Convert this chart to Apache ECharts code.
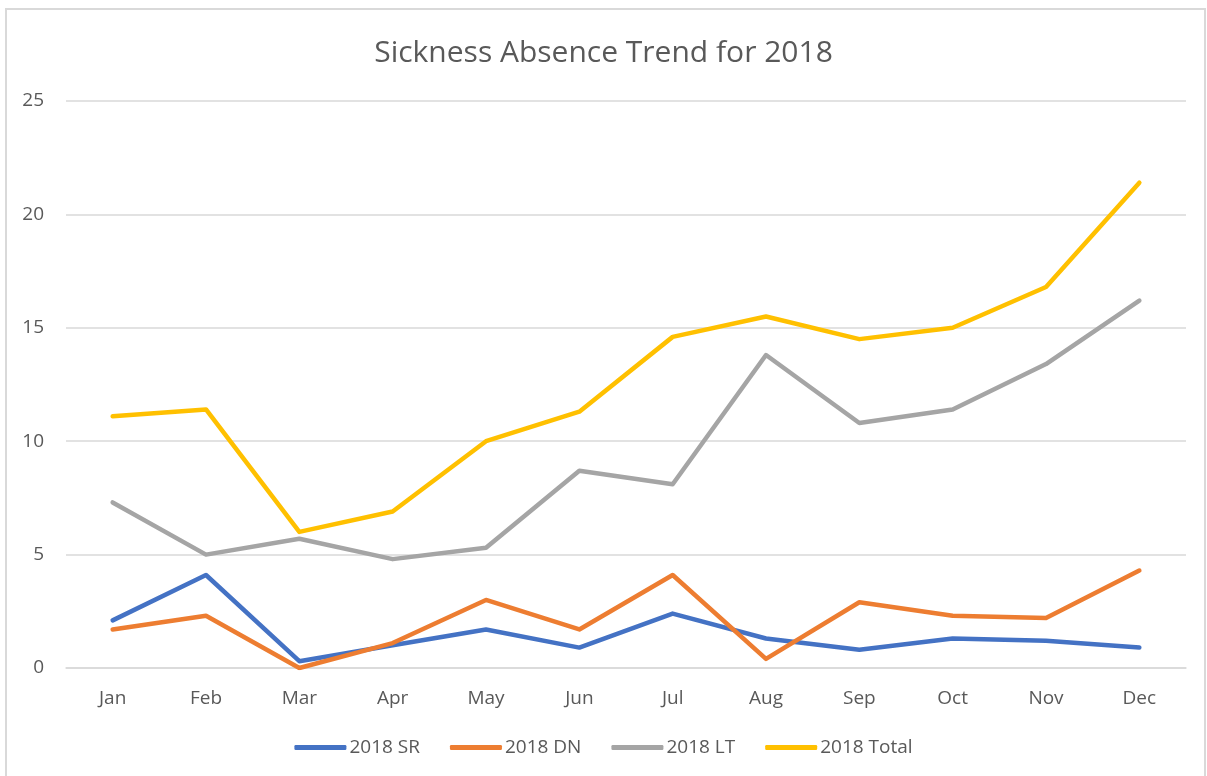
<!DOCTYPE html>
<html>
<head>
<meta charset="utf-8">
<script src="https://cdn.jsdelivr.net/npm/echarts@6/dist/echarts.min.js"></script>
<style>
  html, body { margin: 0; padding: 0; background: #fff; }
  #main { width: 1207px; height: 776px; }
</style>
</head>
<body>
<div id="main"></div>
<script>
var months = ['Jan', 'Feb', 'Mar', 'Apr', 'May', 'Jun', 'Jul', 'Aug', 'Sep', 'Oct', 'Nov', 'Dec'];
var srData = [2.1, 4.1, 0.3, 1.0, 1.7, 0.9, 2.4, 1.3, 0.8, 1.3, 1.2, 0.9];
var dnData = [1.7, 2.3, 0.0, 1.1, 3.0, 1.7, 4.1, 0.4, 2.9, 2.3, 2.2, 4.3];
var ltData = [7.3, 5.0, 5.7, 4.8, 5.3, 8.7, 8.1, 13.8, 10.8, 11.4, 13.4, 16.2];
var totalData = [11.1, 11.4, 6.0, 6.9, 10.0, 11.3, 14.6, 15.5, 14.5, 15.0, 16.8, 21.4];

var font = 'Open Sans';
var textColor = '#595959';

function line(name, data, color) {
    return {
        name: name,
        type: 'line',
        data: data,
        symbol: 'none',
        lineStyle: { width: 4.5, color: color, cap: 'round', join: 'round' },
        itemStyle: { color: color }
    };
}

var myChart = echarts.init(document.getElementById('main'));
var option = {
    animation: false,
    title: {
        text: 'Sickness Absence Trend for 2018',
        left: 'center',
        top: 33,
        textStyle: { fontFamily: font, fontSize: 30, fontWeight: 'normal', color: textColor }
    },
    graphic: [{
        type: 'rect',
        shape: { x: 6, y: 9, width: 1199, height: 790 },
        style: { fill: 'none', stroke: '#d9d9d9', lineWidth: 2 },
        silent: true
    }],
    legend: {
        bottom: 14,
        left: 'center',
        itemWidth: 52,
        itemHeight: 5,
        itemGap: 30,
        icon: 'roundRect',
        textStyle: { fontFamily: font, fontSize: 19, color: textColor, padding: [0, 0, 0, -2] },
        data: ['2018 SR', '2018 DN', '2018 LT', '2018 Total']
    },
    grid: { left: 66, right: 21, top: 101, bottom: 108 },
    xAxis: {
        type: 'category',
        data: months,
        axisLine: { lineStyle: { color: '#d9d9d9', width: 1.5 } },
        axisTick: { show: false },
        axisLabel: { fontFamily: font, fontSize: 19, color: textColor, margin: 21 }
    },
    yAxis: {
        type: 'value',
        min: 0,
        max: 25,
        interval: 5,
        axisLine: { show: false },
        axisTick: { show: false },
        splitLine: { lineStyle: { color: '#d9d9d9', width: 1.5 } },
        axisLabel: { fontFamily: font, fontSize: 19, color: textColor, margin: 22 }
    },
    series: [
        line('2018 SR', srData, '#4472C4'),
        line('2018 DN', dnData, '#ED7D31'),
        line('2018 LT', ltData, '#A5A5A5'),
        line('2018 Total', totalData, '#FFC000')
    ]
};
myChart.setOption(option);
</script>
</body>
</html>
